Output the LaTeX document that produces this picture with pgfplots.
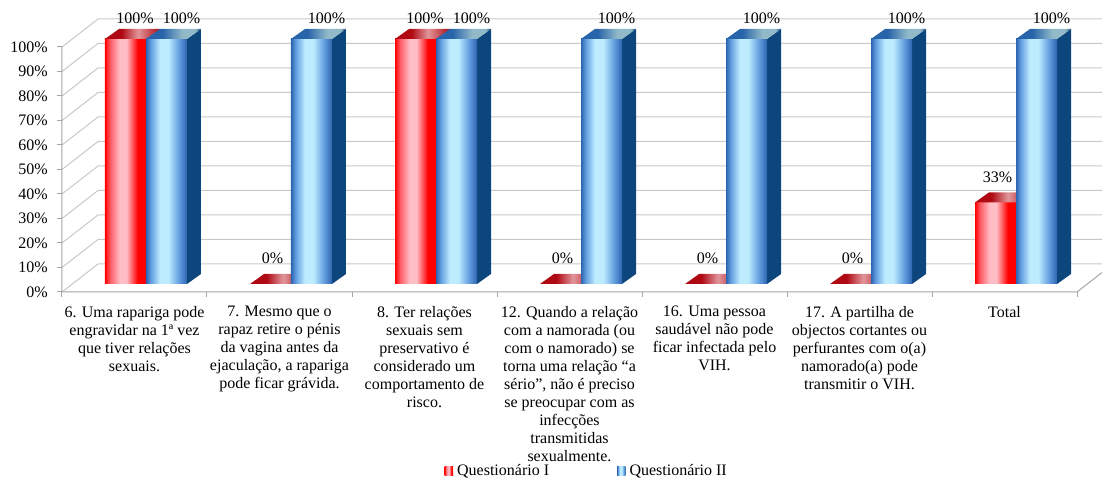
\documentclass[border=0pt]{standalone}
\usepackage{pgfplots}
\pgfplotsset{compat=1.18}
\usepackage{pgfplotstable}
\usepackage{fontspec}
\setmainfont{Liberation Serif}

\definecolor{rfA}{RGB}{255,0,0}
\definecolor{rfB}{RGB}{255,90,100}
\definecolor{rfC}{RGB}{255,190,198}
\definecolor{rtA}{RGB}{175,10,20}
\definecolor{rtB}{RGB}{225,150,155}
\definecolor{rside}{RGB}{150,0,10}
\definecolor{bfA}{RGB}{45,100,175}
\definecolor{bfB}{RGB}{100,160,225}
\definecolor{bfC}{RGB}{190,236,255}
\definecolor{btA}{RGB}{40,100,170}
\definecolor{btB}{RGB}{145,185,200}
\definecolor{bside}{RGB}{12,70,125}
\definecolor{gridc}{RGB}{200,200,200}
\definecolor{axc}{RGB}{165,165,165}

% TikZ maps the middle part (25bp--75bp) of a shading onto the path
\pgfdeclarehorizontalshading{redfront}{100bp}{color(0bp)=(rfA); color(25bp)=(rfA); color(31bp)=(rfB); color(43bp)=(rfC); color(51bp)=(rfC); color(65bp)=(rfA); color(75bp)=(rfA); color(100bp)=(rfA)}
\pgfdeclarehorizontalshading{bluefront}{100bp}{color(0bp)=(bfA); color(25bp)=(bfA); color(31bp)=(bfB); color(42bp)=(bfC); color(52bp)=(bfC); color(65bp)=(bfB); color(75bp)=(bfA); color(100bp)=(bfA)}
\pgfdeclarehorizontalshading{redtop}{100bp}{color(0bp)=(rtA); color(25bp)=(rtA); color(40bp)=(rtA); color(55bp)=(rtB); color(75bp)=(rtA); color(100bp)=(rtA)}
\pgfdeclarehorizontalshading{bluetop}{100bp}{color(0bp)=(btA); color(25bp)=(btA); color(40bp)=(btA); color(58bp)=(btB); color(70bp)=(btB); color(75bp)=(bside); color(100bp)=(bside)}

\pgfdeclareplotmark{empty}{}

\pgfplotstableread{
x v
0 100
1 0
2 100
3 0
4 0
5 0
6 33.3
}\qone
\pgfplotstableread{
x v
0 100
1 100
2 100
3 100
4 100
5 100
6 100
}\qtwo

\pgfplotsset{
  bar3d/.style n args={4}{
    only marks, mark=empty, scatter,
    visualization depends on={y \as \val},
    scatter/@pre marker code/.code={%
      \pgfmathsetmacro{\hh}{\val*1.225}%
      \pgfmathsetmacro{\xa}{#1}%
      \pgfmathsetmacro{\xb}{#1+20.5}%
      \pgfmathsetmacro{\xc}{#1+27.5}%
      \pgfmathsetmacro{\xd}{#1+7}%
      \pgfmathsetmacro{\yb}{4-\hh}%
      \pgfmathsetmacro{\ybb}{9-\hh}%
      \ifdim\hh pt>0.05pt
        \fill[#4, draw=none] (\xb pt,\yb pt) -- (\xb pt,4pt) -- (\xc pt,9pt) -- (\xc pt,\ybb pt) -- cycle;
        \shade[shading=#2, draw=none] (\xa pt,\yb pt) rectangle (\xb pt,4pt);
      \fi
      \shade[shading=#3, draw=none] (\xa pt,4pt) -- (\xb pt,4pt) -- (\xc pt,9pt) -- (\xd pt,9pt) -- cycle;
    },
    scatter/@post marker code/.code={},
  },
  lab3d/.style={
    only marks, mark=empty, forget plot,
    visualization depends on={y \as \val},
    nodes near coords={\pgfmathprintnumber[fixed,precision=0]{\val}\%},
    every node near coord/.append style={font=\fontsize{8}{9}\selectfont, anchor=base, inner sep=0pt,
       xshift={(#1+3.75*(\val>99))*1pt}, yshift={(14-2.5*(\val>99))*1pt}},
  },
}

\begin{document}
\begin{tikzpicture}
\begin{axis}[
  x=72.5pt, y=1.225pt,
  xmin=-0.5, xmax=6.5, ymin=0, ymax=100,
  clip=false,
  axis line style={draw=none},
  tick pos=left,
  point meta min=0, point meta max=100,
  xtick={0,...,6},
  xticklabels={
    {6. Uma rapariga pode\\engravidar na 1ª vez\\que tiver relações\\sexuais.},
    {7. Mesmo que o\\rapaz retire o pénis\\da vagina antes da\\ejaculação, a rapariga\\pode ficar grávida.},
    {8. Ter relações\\sexuais sem\\preservativo é\\considerado um\\comportamento de\\risco.},
    {12. Quando a relação\\com a namorada (ou\\com o namorado) se\\torna uma relação “a\\sério”, não é preciso\\se preocupar com as\\infecções\\transmitidas\\sexualmente.},
    {16. Uma pessoa\\saudável não pode\\ficar infectada pelo\\VIH.},
    {17. A partilha de\\objectos cortantes ou\\perfurantes com o(a)\\namorado(a) pode\\transmitir o VIH.},
    {Total}},
  xtick style={draw=none},
  ytick={0,10,...,100},
  yticklabel={\pgfmathprintnumber{\tick}\%},
  ytick style={draw=axc, line width=0.5pt},
  tick align=outside,
  major tick length=2.5pt,
  yticklabel style={font=\fontsize{8}{9}\selectfont, inner sep=0pt, anchor=east, xshift=-4.5pt},
  xticklabel style={font=\fontsize{8}{9}\selectfont, align=center, anchor=north, inner sep=0pt, yshift=-4.5pt},
  /pgf/number format/assume math mode=true,
  legend columns=2,
  legend style={draw=none, fill=none, font=\fontsize{8}{9}\selectfont, anchor=center, at={(0.518,-0.731)},
    /tikz/every even column/.append style={column sep=32pt}},
]
\pgfplotsinvokeforeach{0,10,...,100}{
  \draw[gridc, line width=0.5pt] (axis cs:-0.5,#1) -- ++(18pt,14pt) -- ([shift={(18pt,14pt)}]axis cs:6.5,#1);
}
\draw[axc, line width=0.5pt] (axis cs:-0.5,100) -- (axis cs:-0.5,0) -- (axis cs:6.5,0) -- ++(18pt,14pt);
\pgfplotsinvokeforeach{-0.5,0.5,...,6.5}{
  \draw[axc, line width=0.5pt] (axis cs:#1,0) -- ++(0pt,-2.5pt);
}
\addplot[bar3d={-14.75}{redfront}{redtop}{rside},
  legend image code/.code={\shade[shading=redfront, draw=none] (0pt,-2.25pt) rectangle (4.2pt,2.25pt);}]
  table[x=x, y=v] {\qone};
\addlegendentry{Questionário I}
\addplot[bar3d={5.75}{bluefront}{bluetop}{bside},
  legend image code/.code={\shade[shading=bluefront, draw=none] (0pt,-2.25pt) rectangle (4.2pt,2.25pt);}]
  table[x=x, y=v] {\qtwo};
\addlegendentry{Questionário II}
\addplot[lab3d={-3.5}] table[x=x, y=v] {\qone};
\addplot[lab3d={19.75}] table[x=x, y=v] {\qtwo};
\coordinate (bbl) at (axis cs:-0.92759,-76.33);
\coordinate (btr) at (axis cs:6.6724,119.18);
\end{axis}
\pgfresetboundingbox
\path[use as bounding box] (bbl) rectangle (btr);
\end{tikzpicture}
\end{document}
